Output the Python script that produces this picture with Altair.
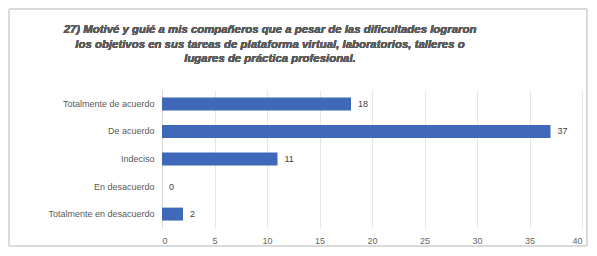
import altair as alt
import pandas as pd

categories = ["Totalmente de acuerdo", "De acuerdo", "Indeciso", "En desacuerdo", "Totalmente en desacuerdo"]
values = [18, 37, 11, 0, 2]
x_ticks = [0, 5, 10, 15, 20, 25, 30, 35, 40]
title_lines = [
    "27) Motivé y guié a mis compañeros que a pesar de las dificultades lograron",
    "los objetivos en sus tareas de plataforma virtual, laboratorios, talleres o",
    "lugares de práctica profesional.",
]

df = pd.DataFrame({"cat": categories, "val": values})

W, H = 420, 138
PL, PT = 154, 82

x = alt.X("val:Q", scale=alt.Scale(domain=[0, 40], nice=False),
          axis=alt.Axis(values=x_ticks, title=None, grid=True, gridColor="#e6e6e6",
                        domain=False, ticks=False, labelColor="#666666", labelFontSize=9,
                        labelPadding=8, labelFont="Liberation Sans"))
y = alt.Y("cat:N", sort=categories, scale=alt.Scale(paddingInner=0.53, paddingOuter=0.27),
          axis=alt.Axis(title=None, ticks=False, domain=True, domainColor="#d9d9d9",
                        labelColor="#595959", labelFontSize=9, labelPadding=8,
                        labelFont="Liberation Sans"))

bars = alt.Chart(df).mark_bar(color="#3f68b8").encode(x=x, y=y)
labels = alt.Chart(df).mark_text(align="left", dx=7, fontSize=9, color="#404040",
                                 font="Liberation Sans").encode(
    x="val:Q", y=alt.Y("cat:N", sort=categories), text="val:Q")
border = alt.Chart(df).mark_rect(fill=None, stroke="#d9d9d9", strokeWidth=1).encode(
    x=alt.value(-PL + 1), x2=alt.value(W + 5), y=alt.value(-PT + 1), y2=alt.value(H + 18))

title_layers = []
for i, line in enumerate(title_lines):
    title_layers.append(
        alt.Chart(df).mark_text(font="Liberation Sans", fontSize=11.4, fontStyle="italic",
                                fontWeight="bold", color="#5a5a5a", align="center",
                                baseline="middle").encode(
            x=alt.value(108), y=alt.value(-60 + i * 14.5), text=alt.value(line))
    )

chart = alt.layer(border, bars, labels, *title_layers).properties(
    width=W, height=H,
    autosize=alt.AutoSizeParams(type="none"),
    padding={"left": PL, "top": PT, "right": 7, "bottom": 20},
).configure_view(stroke=None)

chart.save("out.html", embed_options={"renderer": "svg", "actions": False})
